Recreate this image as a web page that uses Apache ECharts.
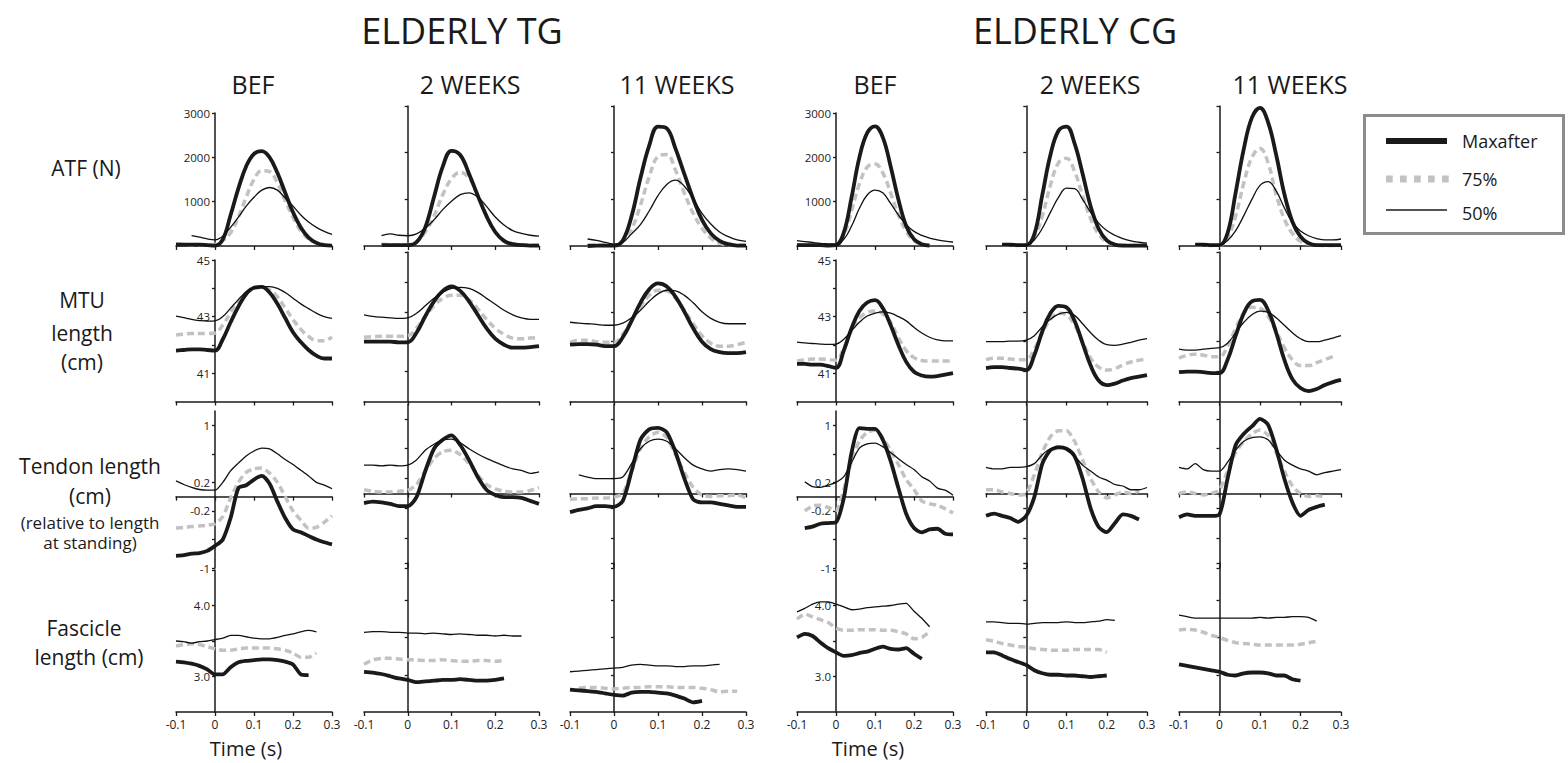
<!DOCTYPE html>
<html>
<head>
<meta charset="utf-8">
<script src="https://cdn.jsdelivr.net/npm/echarts@6/dist/echarts.min.js"></script>
<style>
html,body{margin:0;padding:0;background:#fff;}
#chart{width:1568px;height:763px;}
</style>
</head>
<body>
<div id="chart"></div>
<script>
const N = null;
// Time axis (s)
const time = [-0.1,-0.08,-0.06,-0.04,-0.02,0,0.02,0.04,0.06,0.08,0.1,0.12,0.14,0.16,0.18,0.2,0.22,0.24,0.26,0.28,0.3];

const groupTitles = ['ELDERLY TG', 'ELDERLY CG'];
const columnTitles = ['BEF', '2 WEEKS', '11 WEEKS', 'BEF', '2 WEEKS', '11 WEEKS'];
const seriesNames = ['Maxafter', '75%', '50%'];
const xTickLabels = ['-0.1', '0', '0.1', '0.2', '0.3'];

// ATF (N)
const atf_tg_bef_max = [30,30,30,30,20,10,150,700,1300,1800,2080,2140,2000,1650,1200,760,420,190,70,20,10];
const atf_tg_bef_75  = [50,40,30,30,30,40,120,300,650,1100,1500,1700,1680,1420,1020,650,340,160,70,40,N];
const atf_tg_bef_50  = [N,N,235,200,160,140,220,420,650,900,1100,1260,1320,1260,1080,900,700,540,420,330,260];
const atf_tg_2w_max  = [N,N,20,20,20,20,80,400,1050,1700,2040,1950,1550,1080,640,300,110,40,20,10,10];
const atf_tg_2w_75   = [N,N,40,30,20,30,100,300,640,1100,1440,1580,1460,1100,650,300,120,50,30,20,20];
const atf_tg_2w_50   = [N,N,220,260,230,220,260,380,560,780,960,1100,1140,1050,850,620,450,330,270,230,210];
const atf_tg_11w_max = [N,N,0,10,10,10,120,640,1450,2150,2560,2520,2080,1540,1010,560,270,110,40,10,10];
const atf_tg_11w_75  = [N,N,20,20,20,20,100,360,870,1480,1920,1960,1620,1130,700,380,170,60,30,20,20];
const atf_tg_11w_50  = [N,N,150,120,80,40,80,260,460,750,1080,1320,1410,1280,1010,700,470,300,200,130,100];
const atf_cg_bef_max = [20,20,20,20,10,20,300,1100,2000,2550,2700,2450,1800,1050,450,150,40,10,N,N,N];
const atf_cg_bef_75  = [20,20,20,20,20,30,250,800,1400,1780,1850,1650,1200,700,330,120,40,20,N,N,N];
const atf_cg_bef_50  = [120,100,80,60,50,40,150,450,850,1150,1260,1200,960,700,480,330,240,180,140,110,90];
const atf_cg_2w_max  = [N,N,30,30,20,20,250,1100,1950,2470,2560,2200,1550,850,370,120,30,10,10,10,10];
const atf_cg_2w_75   = [N,N,20,20,10,20,200,650,1300,1780,1880,1600,1080,580,250,90,30,20,10,10,10];
const atf_cg_2w_50   = [N,N,30,30,20,20,130,380,720,1040,1240,1230,1000,720,490,330,230,160,110,80,60];
const atf_cg_11w_max = [N,N,30,30,20,20,280,1150,2080,2750,2960,2650,1950,1120,520,200,60,20,20,20,20];
const atf_cg_11w_75  = [N,N,20,20,10,10,180,650,1350,1900,2090,1780,1100,580,270,100,40,20,10,10,10];
const atf_cg_11w_50  = [N,N,30,30,20,20,120,330,650,1000,1300,1380,1180,820,500,320,220,160,130,130,150];

// MTU length (cm)
const mtu_tg_bef_max = [41.8,41.82,41.84,41.84,41.82,41.8,42.2,42.8,43.35,43.8,44.02,44.05,43.85,43.45,42.95,42.45,42.1,41.82,41.62,41.52,41.52];
const mtu_tg_bef_75  = [42.35,42.38,42.4,42.4,42.4,42.42,42.7,43.15,43.55,43.85,44.0,44.02,43.95,43.7,43.3,42.9,42.55,42.3,42.15,42.15,42.28];
const mtu_tg_bef_50  = [43.02,42.96,42.9,42.86,42.84,42.85,43.0,43.3,43.6,43.88,44.02,44.06,44.06,44.0,43.85,43.65,43.45,43.28,43.12,43.0,42.94];
const mtu_tg_2w_max  = [42.0,42.0,42.0,42.0,41.98,41.98,42.3,42.85,43.35,43.7,43.85,43.7,43.35,42.9,42.45,42.1,41.9,41.8,41.8,41.82,41.85];
const mtu_tg_2w_75   = [42.15,42.17,42.18,42.18,42.18,42.2,42.45,42.85,43.2,43.45,43.55,43.55,43.4,43.1,42.75,42.45,42.25,42.12,42.1,42.12,42.15];
const mtu_tg_2w_50   = [42.9,42.85,42.82,42.8,42.78,42.8,42.95,43.2,43.45,43.65,43.78,43.82,43.78,43.65,43.45,43.25,43.05,42.9,42.8,42.75,42.75];
const mtu_tg_11w_max = [41.9,41.92,41.92,41.9,41.85,41.85,42.15,42.7,43.3,43.75,43.95,43.85,43.5,43.0,42.45,42.0,41.75,41.65,41.62,41.62,41.65];
const mtu_tg_11w_75  = [41.98,42.05,42.05,42.0,41.98,41.98,42.25,42.7,43.15,43.55,43.72,43.7,43.45,43.05,42.6,42.2,41.95,41.85,41.85,41.9,41.98];
const mtu_tg_11w_50  = [42.65,42.62,42.6,42.58,42.55,42.55,42.62,42.8,43.05,43.35,43.6,43.72,43.7,43.55,43.3,43.0,42.78,42.65,42.6,42.6,42.6];
const mtu_cg_bef_max = [41.33,41.33,41.3,41.3,41.25,41.19,41.8,42.6,43.2,43.5,43.58,43.3,42.7,42.0,41.4,41.05,40.92,40.88,40.9,40.95,41.0];
const mtu_cg_bef_75  = [41.43,41.47,41.5,41.5,41.48,41.46,41.9,42.5,42.95,43.15,43.2,43.1,42.8,42.25,41.8,41.55,41.45,41.43,41.43,41.43,41.43];
const mtu_cg_bef_50  = [42.1,42.07,42.05,42.03,42.02,42.03,42.2,42.5,42.8,43.02,43.12,43.17,43.12,43.0,42.85,42.62,42.42,42.27,42.18,42.14,42.14];
const mtu_cg_2w_max  = [41.12,41.15,41.15,41.12,41.1,41.05,41.55,42.35,42.95,43.2,43.15,42.7,41.95,41.2,40.7,40.55,40.6,40.7,40.78,40.83,40.88];
const mtu_cg_2w_75   = [41.4,41.45,41.45,41.42,41.4,41.4,41.75,42.3,42.75,42.95,42.9,42.55,42.0,41.45,41.15,41.05,41.1,41.22,41.32,41.38,41.42];
const mtu_cg_2w_50   = [42.0,42.0,42.0,42.02,42.02,42.05,42.2,42.5,42.75,42.92,42.98,42.88,42.6,42.3,42.05,41.9,41.88,41.92,41.98,42.05,42.1];
const mtu_cg_11w_max = [40.98,41.0,41.0,40.98,40.95,40.95,41.4,42.2,42.95,43.35,43.4,43.05,42.3,41.4,40.75,40.45,40.35,40.42,40.55,40.65,40.72];
const mtu_cg_11w_75  = [41.45,41.55,41.58,41.55,41.5,41.5,41.85,42.45,42.95,43.15,43.12,42.85,42.35,41.8,41.4,41.2,41.2,41.3,41.4,41.5,N];
const mtu_cg_11w_50  = [41.75,41.72,41.72,41.75,41.78,41.8,41.95,42.3,42.65,42.9,43.02,42.98,42.8,42.55,42.3,42.1,42.0,42.0,42.05,42.12,42.2];

// Tendon length (cm), relative to length at standing
const ten_tg_bef_max = [-0.83,-0.82,-0.8,-0.79,-0.76,-0.69,-0.6,-0.3,0.12,0.16,0.24,0.29,0.18,-0.07,-0.3,-0.46,-0.5,-0.55,-0.6,-0.64,-0.67];
const ten_tg_bef_75  = [-0.44,-0.43,-0.42,-0.41,-0.4,-0.38,-0.28,-0.02,0.2,0.34,0.39,0.4,0.33,0.2,0.0,-0.2,-0.33,-0.44,-0.43,-0.36,-0.27];
const ten_tg_bef_50  = [0.22,0.17,0.13,0.1,0.09,0.09,0.2,0.36,0.47,0.57,0.64,0.68,0.67,0.6,0.52,0.45,0.37,0.29,0.2,0.16,0.11];
const ten_tg_2w_max  = [-0.13,-0.11,-0.12,-0.14,-0.17,-0.17,-0.05,0.3,0.6,0.72,0.78,0.65,0.45,0.22,0.05,-0.02,-0.05,-0.05,-0.06,-0.1,-0.14];
const ten_tg_2w_75   = [0.05,0.03,0.02,0.02,0.03,0.04,0.12,0.3,0.47,0.56,0.58,0.52,0.4,0.25,0.12,0.06,0.03,0.02,0.02,0.04,0.08];
const ten_tg_2w_50   = [0.38,0.38,0.37,0.38,0.37,0.38,0.45,0.58,0.66,0.72,0.73,0.68,0.6,0.53,0.47,0.42,0.37,0.33,0.31,0.27,0.29];
const ten_tg_11w_max = [-0.25,-0.22,-0.2,-0.17,-0.17,-0.18,-0.1,0.3,0.72,0.86,0.88,0.82,0.55,0.2,-0.08,-0.12,-0.12,-0.14,-0.16,-0.18,-0.18];
const ten_tg_11w_75  = [-0.08,-0.07,-0.07,-0.06,-0.06,-0.05,0.0,0.3,0.6,0.76,0.82,0.75,0.52,0.28,0.08,-0.02,-0.04,-0.03,-0.03,-0.02,-0.06];
const ten_tg_11w_50  = [N,0.25,0.22,0.2,0.2,0.2,0.22,0.4,0.6,0.7,0.73,0.7,0.6,0.48,0.38,0.33,0.3,0.32,0.33,0.32,0.3];
const ten_cg_bef_max = [N,-0.44,-0.42,-0.38,-0.37,-0.36,-0.02,0.62,0.96,0.95,0.95,0.8,0.5,0.12,-0.24,-0.44,-0.5,-0.46,-0.45,-0.52,-0.53];
const ten_cg_bef_75  = [N,-0.2,-0.13,-0.12,-0.15,-0.19,0.1,0.5,0.78,0.9,0.93,0.82,0.65,0.45,0.24,0.1,-0.06,-0.1,-0.12,-0.17,-0.23];
const ten_cg_bef_50  = [N,0.21,0.14,0.13,0.16,0.2,0.28,0.48,0.68,0.74,0.75,0.7,0.62,0.53,0.45,0.38,0.28,0.22,0.12,0.09,0.02];
const ten_cg_2w_max  = [-0.3,-0.27,-0.3,-0.33,-0.38,-0.3,-0.05,0.4,0.58,0.62,0.6,0.5,0.2,-0.2,-0.45,-0.52,-0.4,-0.28,-0.3,-0.35,N];
const ten_cg_2w_75   = [0.05,0.05,0.02,0.0,-0.02,0.0,0.25,0.55,0.76,0.84,0.84,0.7,0.45,0.2,0.02,-0.06,-0.02,0.02,0.0,0.03,N];
const ten_cg_2w_50   = [0.35,0.33,0.33,0.35,0.35,0.36,0.4,0.52,0.6,0.62,0.6,0.5,0.38,0.3,0.22,0.18,0.12,0.1,0.05,0.05,0.08];
const ten_cg_11w_max = [-0.32,-0.28,-0.3,-0.3,-0.3,-0.28,0.2,0.65,0.8,0.9,1.0,0.92,0.6,0.2,-0.12,-0.3,-0.22,-0.18,-0.15,N,N];
const ten_cg_11w_75  = [0.0,0.02,0.0,-0.02,0.0,0.05,0.3,0.55,0.7,0.8,0.85,0.78,0.55,0.3,0.1,0.0,-0.04,-0.03,-0.05,N,N];
const ten_cg_11w_50  = [0.35,0.33,0.4,0.32,0.3,0.3,0.42,0.58,0.7,0.75,0.76,0.72,0.58,0.45,0.38,0.33,0.3,0.25,0.28,0.3,0.32];

// Fascicle length (cm)
const fas_tg_bef_max = [3.21,3.2,3.18,3.15,3.1,3.03,3.03,3.13,3.2,3.22,3.23,3.24,3.24,3.23,3.21,3.17,3.03,3.02,N,N,N];
const fas_tg_bef_75  = [3.43,3.45,3.46,3.45,3.42,3.39,3.37,3.37,3.39,3.4,3.4,3.4,3.4,3.39,3.37,3.33,3.27,3.27,3.33,N,N];
const fas_tg_bef_50  = [3.5,3.49,3.47,3.49,3.5,3.52,3.54,3.58,3.58,3.56,3.54,3.53,3.53,3.55,3.58,3.6,3.63,3.65,3.63,N,N];
const fas_tg_2w_max  = [3.04,3.03,3.01,2.98,2.95,2.93,2.9,2.91,2.92,2.93,2.93,2.94,2.93,2.92,2.92,2.93,2.95,N,N,N,N];
const fas_tg_2w_75   = [3.14,3.2,3.22,3.22,3.21,3.2,3.2,3.19,3.19,3.2,3.19,3.18,3.18,3.19,3.19,3.18,3.19,N,N,N,N];
const fas_tg_2w_50   = [3.57,3.58,3.58,3.57,3.57,3.56,3.56,3.55,3.56,3.55,3.54,3.55,3.54,3.53,3.53,3.52,3.53,3.52,3.52,N,N];
const fas_tg_11w_max = [2.8,2.79,2.78,2.77,2.75,2.73,2.72,2.76,2.77,2.77,2.76,2.75,2.72,2.68,2.63,2.65,N,N,N,N,N];
const fas_tg_11w_75  = [N,2.82,2.83,2.83,2.82,2.81,2.82,2.83,2.83,2.84,2.84,2.84,2.83,2.83,2.83,2.82,2.8,2.77,2.78,2.78,N];
const fas_tg_11w_50  = [3.04,3.05,3.06,3.07,3.08,3.09,3.1,3.13,3.14,3.13,3.12,3.12,3.11,3.11,3.12,3.12,3.13,3.14,N,N,N];
const fas_cg_bef_max = [3.55,3.6,3.57,3.48,3.4,3.34,3.29,3.3,3.33,3.35,3.39,3.42,3.39,3.38,3.4,3.32,3.25,N,N,N,N];
const fas_cg_bef_75  = [3.81,3.88,3.84,3.8,3.76,3.68,3.65,3.65,3.66,3.66,3.66,3.65,3.65,3.63,3.6,3.53,3.55,3.63,N,N,N];
const fas_cg_bef_50  = [3.91,3.96,4.02,4.05,4.05,4.02,3.98,3.94,3.95,3.97,3.98,3.99,4.0,4.02,4.03,3.92,3.82,3.7,N,N,N];
const fas_cg_2w_max  = [3.3,3.3,3.26,3.21,3.17,3.13,3.06,3.02,3.0,3.0,2.99,2.99,2.98,2.97,2.98,2.99,N,N,N,N,N];
const fas_cg_2w_75   = [3.47,3.45,3.42,3.4,3.38,3.37,3.35,3.34,3.33,3.33,3.33,3.34,3.34,3.34,3.34,3.3,N,N,N,N,N];
const fas_cg_2w_50   = [3.71,3.71,3.7,3.69,3.69,3.68,3.69,3.7,3.7,3.7,3.71,3.7,3.7,3.71,3.72,3.74,3.73,N,N,N,N];
const fas_cg_11w_max = [3.14,3.12,3.1,3.08,3.06,3.04,3.0,2.99,3.02,3.03,3.03,3.02,2.99,2.99,2.94,2.92,N,N,N,N,N];
const fas_cg_11w_75  = [3.6,3.61,3.6,3.57,3.53,3.5,3.46,3.43,3.42,3.41,3.4,3.4,3.4,3.4,3.4,3.41,3.43,3.45,N,N,N];
const fas_cg_11w_50  = [3.8,3.78,3.76,3.76,3.76,3.76,3.76,3.76,3.76,3.76,3.77,3.76,3.77,3.77,3.78,3.78,3.77,3.72,N,N,N];

// Per-row series table built from the named arrays above
const panelData = [
  [[atf_tg_bef_max,atf_tg_bef_75,atf_tg_bef_50],[atf_tg_2w_max,atf_tg_2w_75,atf_tg_2w_50],[atf_tg_11w_max,atf_tg_11w_75,atf_tg_11w_50],
   [atf_cg_bef_max,atf_cg_bef_75,atf_cg_bef_50],[atf_cg_2w_max,atf_cg_2w_75,atf_cg_2w_50],[atf_cg_11w_max,atf_cg_11w_75,atf_cg_11w_50]],
  [[mtu_tg_bef_max,mtu_tg_bef_75,mtu_tg_bef_50],[mtu_tg_2w_max,mtu_tg_2w_75,mtu_tg_2w_50],[mtu_tg_11w_max,mtu_tg_11w_75,mtu_tg_11w_50],
   [mtu_cg_bef_max,mtu_cg_bef_75,mtu_cg_bef_50],[mtu_cg_2w_max,mtu_cg_2w_75,mtu_cg_2w_50],[mtu_cg_11w_max,mtu_cg_11w_75,mtu_cg_11w_50]],
  [[ten_tg_bef_max,ten_tg_bef_75,ten_tg_bef_50],[ten_tg_2w_max,ten_tg_2w_75,ten_tg_2w_50],[ten_tg_11w_max,ten_tg_11w_75,ten_tg_11w_50],
   [ten_cg_bef_max,ten_cg_bef_75,ten_cg_bef_50],[ten_cg_2w_max,ten_cg_2w_75,ten_cg_2w_50],[ten_cg_11w_max,ten_cg_11w_75,ten_cg_11w_50]],
  [[fas_tg_bef_max,fas_tg_bef_75,fas_tg_bef_50],[fas_tg_2w_max,fas_tg_2w_75,fas_tg_2w_50],[fas_tg_11w_max,fas_tg_11w_75,fas_tg_11w_50],
   [fas_cg_bef_max,fas_cg_bef_75,fas_cg_bef_50],[fas_cg_2w_max,fas_cg_2w_75,fas_cg_2w_50],[fas_cg_11w_max,fas_cg_11w_75,fas_cg_11w_50]]
];

// y-axis scales and tick labels per row
const yMin = [0, 40, -1, 2.5];
const yMax = [3000, 45, 1.2, 4.5];
const yTicks = [[1000,2000,3000],[41,42,43,44,45],[-1,-0.6,-0.2,0.2,0.6,1],[3,3.5,4,4.5]];
const yLabels = [[1000,2000,3000],[41,43,45],[-1,-0.2,0.2,1],[3,4]];
const yLabelText = [['1000','2000','3000'],['41','43','45'],['-1','-0.2','0.2','1'],['3.0','4.0']];

// ---- layout (pixels) ----
const FONT = "'Open Sans','Noto Sans',sans-serif";
const colBox = [[176,332],[364,539],[570,746],[797,953],[986,1147],[1179,1341]];
const rowTopLabeled = [113,260,411,570];
const rowTopPlain = [106,252,404,563];
const rowBottom = [246,401.5,568,712];
const labeledCols = [0,3];
const smoothRow = [0.4,0.4,0.25,0.2];

const grids = [], xAxes = [], yAxes = [], series = [];
const styles = [
  {color:'#1a1a1a', width:3.8, type:'solid', z:3},
  {color:'#c2c2c2', width:3.5, type:[7,4], z:2},
  {color:'#111111', width:1.3, type:'solid', z:4}
];

let k = 0;
for (let r = 0; r < 4; r++) {
  for (let c = 0; c < 6; c++) {
    const labeled = labeledCols.includes(c);
    const top = labeled ? rowTopLabeled[r] : rowTopPlain[r];
    const w = colBox[c][1] - colBox[c][0];
    grids.push({left: colBox[c][0], top: top, width: w, height: rowBottom[r]-top, containLabel:false});
    xAxes.push({
      type:'value', gridIndex:k, min:-0.1, max:0.3, interval:0.1,
      axisLine:{show:true, onZero:true, lineStyle:{color:'#1a1a1a', width:1.5}},
      axisTick:{show:true, inside:false, length:4, lineStyle:{color:'#1a1a1a', width:1.3}},
      axisLabel:{show: r===3, margin:6, fontSize:12, color:'#222', fontFamily:FONT,
        formatter: (v) => { const i = Math.round((v + 0.1) / 0.1); return xTickLabels[i] !== undefined ? xTickLabels[i] : ''; }},
      splitLine:{show:false}
    });
    const tk = yTicks[r], lb = yLabels[r], lt = yLabelText[r];
    yAxes.push({
      type:'value', gridIndex:k, min:yMin[r], max:yMax[r], position:'left',
      // y axis drawn at time = 0 (one quarter of the -0.1..0.3 range)
      offset: -w * 0.25,
      axisLine:{show:true, onZero:false, lineStyle:{color:'#1a1a1a', width:1.5}},
      axisTick:{show:true, inside:false, length:3, customValues: tk, lineStyle:{color:'#1a1a1a', width:1.3}},
      axisLabel:{show: labeled, margin:5, fontSize:11.5, color:'#222', fontFamily:FONT, customValues: lb,
        formatter: (v) => { for (let i=0;i<lb.length;i++){ if (Math.abs(lb[i]-v) < 1e-6) return lt[i]; } return ''; }},
      splitLine:{show:false}
    });
    const trio = panelData[r][c];
    for (let s = 0; s < 3; s++) {
      const arr = trio[s];
      const pts = [];
      for (let i = 0; i < time.length; i++) if (arr[i] !== null) pts.push([time[i], arr[i]]);
      const st = styles[s];
      series.push({
        type:'line', name: seriesNames[s], xAxisIndex:k, yAxisIndex:k, data: pts,
        symbol:'none', showSymbol:false, smooth: smoothRow[r], silent:true, z: st.z, clip:false,
        lineStyle:{color:st.color, width:st.width, type:st.type, cap:'butt', join:'round'}
      });
    }
    k++;
  }
}

function txt(x, y, text, size, align) {
  return {type:'text', x:x, y:y, silent:true,
    style:{text:text, fill:'#1a1a1a', font: size + 'px ' + FONT, textAlign: align || 'center', textVerticalAlign:'middle'}};
}
const colCenters = [253, 470, 677, 875, 1090, 1290];
const graphics = [
  txt(462, 30, groupTitles[0], 36),
  txt(1075, 30, groupTitles[1], 36)
];
columnTitles.forEach((t,i) => graphics.push(txt(colCenters[i], 84, t, 25)));
graphics.push(txt(86, 168, 'ATF (N)', 21));
graphics.push(txt(82, 300, 'MTU', 21));
graphics.push(txt(82, 333, 'length', 21));
graphics.push(txt(82, 362, '(cm)', 21));
graphics.push(txt(90, 466, 'Tendon length', 21));
graphics.push(txt(90, 496, '(cm)', 21));
graphics.push(txt(90, 522, '(relative to length', 17));
graphics.push(txt(90, 542, 'at standing)', 17));
graphics.push(txt(84, 628, 'Fascicle', 21));
graphics.push(txt(89, 657, 'length (cm)', 21));
graphics.push(txt(246, 748, 'Time (s)', 20));
graphics.push(txt(868, 748, 'Time (s)', 20));
// legend box
graphics.push({type:'rect', silent:true, shape:{x:1364.5, y:115.5, width:199, height:118},
  style:{fill:'#fff', stroke:'#8c8c8c', lineWidth:3}});
graphics.push({type:'line', silent:true, shape:{x1:1386, y1:141, x2:1447, y2:141}, style:{stroke:'#1a1a1a', lineWidth:6}});
graphics.push({type:'line', silent:true, shape:{x1:1386, y1:179, x2:1449, y2:179}, style:{stroke:'#c2c2c2', lineWidth:7, lineDash:[6.7,7.3]}});
graphics.push({type:'line', silent:true, shape:{x1:1386, y1:210, x2:1447, y2:210}, style:{stroke:'#1a1a1a', lineWidth:1.3}});
graphics.push(txt(1462, 141, seriesNames[0], 18, 'left'));
graphics.push(txt(1462, 179, seriesNames[1], 18, 'left'));
graphics.push(txt(1462, 213, seriesNames[2], 18, 'left'));

const chart = echarts.init(document.getElementById('chart'), null, {renderer:'svg', width:1568, height:763});
chart.setOption({
  animation:false,
  backgroundColor:'#ffffff',
  grid: grids, xAxis: xAxes, yAxis: yAxes, series: series,
  graphic: graphics
});
</script>
</body>
</html>
